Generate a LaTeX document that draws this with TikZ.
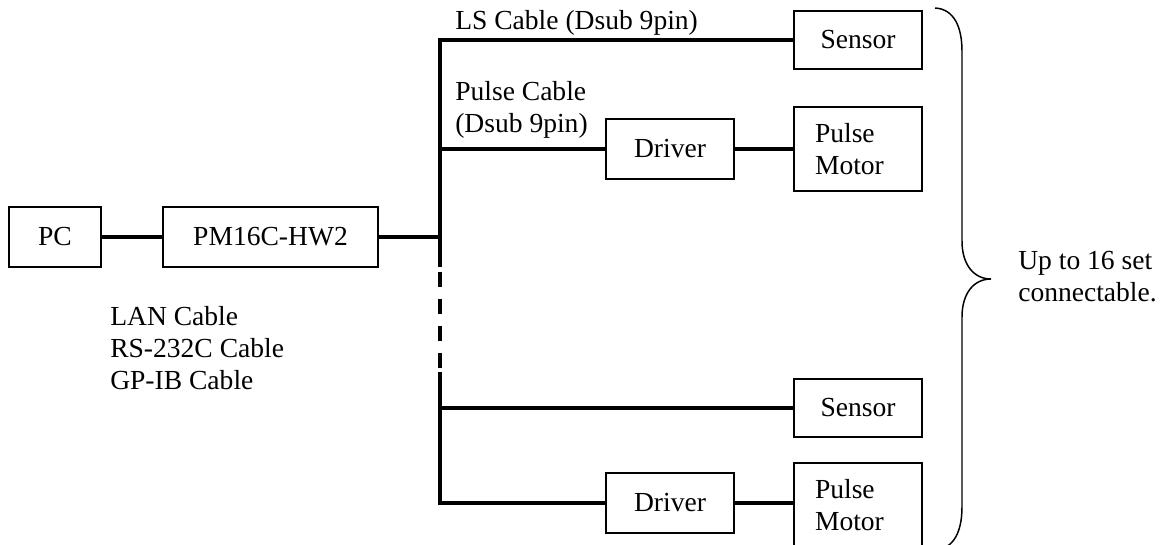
\documentclass[tikz,border=0pt]{standalone}
\usepackage{fontspec}
\setmainfont{Liberation Serif}
\usetikzlibrary{calc}
\tikzset{
  device/.style={draw, line width=0.9pt, minimum width=3.2cm, minimum height=1.5cm, inner sep=0pt},
  motorbox/.style={device, minimum height=2.1cm, text width=2.15cm, inner xsep=0.525cm, align=left},
  cable/.style={line width=2.2pt},
  caption/.style={inner sep=0pt, align=left, anchor=west},
}

\begin{document}
\begin{tikzpicture}[x=1cm, y=1cm, font=\fontsize{19.6}{22.7}\selectfont]
    \useasboundingbox (0,0) rectangle (29.2,13.625);

    \coordinate (busTop) at (11, 12.625);
    \coordinate (dashTop) at (11, 6.95);
    \coordinate (dashBot) at (11, 4.325);
    \coordinate (busBot) at (11, 1.05);

    \node[device, minimum width=2.3cm] (pc) at (1.375, 7.7) {PC};
    \node[device, minimum width=5.375cm] (pm) at (6.7625, 7.7) {PM16C-HW2};

    \node[device, minimum height=1.45cm] (sensorA) at (21.45, 12.625) {Sensor};
    \node[device] (driverA) at (16.75, 9.9) {Driver};
    \node[motorbox] (motorA) at (21.45, 9.9) {Pulse\\Motor};

    \node[device, minimum height=1.45cm] (sensorB) at (21.45, 3.425) {Sensor};
    \node[device] (driverB) at (16.75, 1.05) {Driver};
    \node[motorbox] (motorB) at (21.45, 1.0) {Pulse\\Motor};

    \draw[cable] (pc) -- (pm);
    \draw[cable] (pm.east) -- (pm.east -| busTop);
    \draw[cable] (sensorA.west) -- (busTop) -- (dashTop);
    \draw[cable, dash pattern=on 0.375cm off 0.3cm, dash phase=0.55cm] (dashTop) -- (dashBot);
    \draw[cable] (dashBot) -- (busBot) -- (driverB.west);
    \draw[cable] (driverA.west) -- (driverA.west -| busTop);
    \draw[cable] (driverA.east) -- (driverA.east -| motorA.west);
    \draw[cable] (sensorB.west) -- (sensorB.west -| busBot);
    \draw[cable] (driverB.east) -- (driverB.east -| motorB.west);

    \node[caption] (lsLabel) at (11.375, 13.05) {LS Cable (Dsub 9pin)};
    \node[caption] (pulseLabel) at (11.375, 10.875) {Pulse Cable\\(Dsub 9pin)};
    \node[caption] (hostLabel) at (2.75, 4.925) {LAN Cable\\RS-232C Cable\\GP-IB Cable};
    \node[caption] (countLabel) at (25.45, 6.70) {Up to 16 set\\connectable.};

    % brace round all the sets
    \draw[line width=1.05pt] (23.375,13.425) .. controls (23.85,13.4) and (24.05,12.95) .. (24.05,12.35)
        -- (24.05,7.6) .. controls (24.05,7.0) and (24.35,6.65) .. (24.775,6.65)
        .. controls (24.35,6.65) and (24.05,6.3) .. (24.05,5.7)
        -- (24.05,0.95) .. controls (24.05,0.35) and (23.85,-0.1) .. (23.375,-0.125);
\end{tikzpicture}
\end{document}
